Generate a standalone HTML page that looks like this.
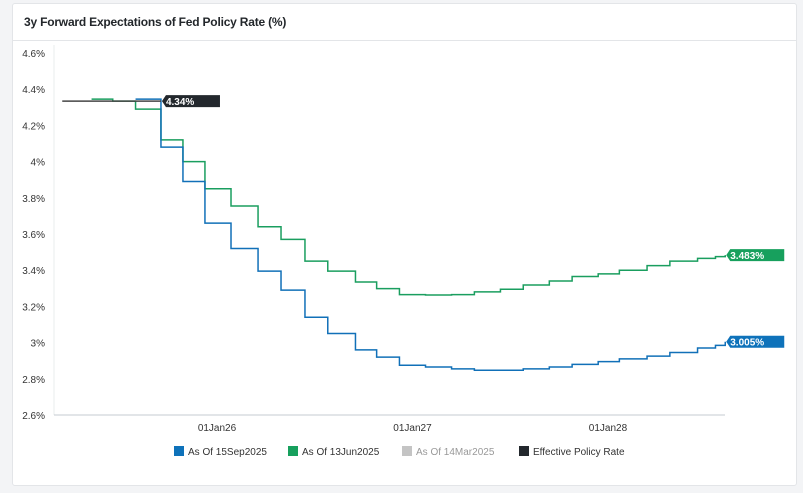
<!DOCTYPE html>
<html><head><meta charset="utf-8"><style>
body{margin:0;background:#f3f4f6;font-family:"Liberation Sans",sans-serif;}
.card{position:absolute;left:12px;top:3px;width:783px;height:481px;background:#fff;border:1px solid #e3e5e8;border-radius:3px;}
.title{position:absolute;left:11px;top:11px;font-size:12px;letter-spacing:-0.2px;font-weight:bold;color:#23272b;}
.sep{position:absolute;left:0;right:0;top:36px;border-top:1px solid #e3e5e8;}
svg{position:absolute;left:0;top:0;}
</style></head><body>
<div class="card">
<div class="title">3y Forward Expectations of Fed Policy Rate (%)</div>
<div class="sep"></div>
</div>
<svg id="chart" width="803" height="493"></svg>
<script>
// months relative to 01Jan26
const yTicks=[4.6,4.4,4.2,4.0,3.8,3.6,3.4,3.2,3.0,2.8,2.6];
const yTickLabels=["4.6%","4.4%","4.2%","4%","3.8%","3.6%","3.4%","3.2%","3%","2.8%","2.6%"];
const xTicks=[0,12,24];
const xTickLabels=["01Jan26","01Jan27","01Jan28"];
const blueMonths=[-5.0,-3.44,-2.09,-0.74,0.86,2.52,3.93,5.4,6.8,8.5,9.8,11.2,12.8,14.4,15.8,17.4,18.8,20.4,21.8,23.4,24.7,26.4,27.8,29.5,30.6,31.2];
const blueValues=[4.345,4.08,3.89,3.66,3.52,3.395,3.29,3.14,3.05,2.96,2.92,2.875,2.865,2.855,2.847,2.847,2.855,2.865,2.88,2.895,2.91,2.925,2.945,2.97,2.985,3.005];
const greenMonths=[-7.7,-6.4,-5.0,-3.44,-2.09,-0.74,0.86,2.52,3.93,5.4,6.8,8.5,9.8,11.2,12.8,14.4,15.8,17.4,18.8,20.4,21.8,23.4,24.7,26.4,27.8,29.5,30.6,31.2];
const greenValues=[4.345,4.334,4.29,4.12,4.0,3.85,3.755,3.64,3.57,3.45,3.395,3.335,3.298,3.265,3.263,3.265,3.28,3.295,3.318,3.34,3.365,3.38,3.40,3.425,3.45,3.465,3.475,3.483];
const effMonths=[-9.5,-3.44];
const effValues=[4.334,4.334];
const X=m=>217+m*16.29;
const Y=v=>53+(4.6-v)*181;
const NS="http://www.w3.org/2000/svg";
const svg=document.getElementById('chart');
function mk(t,a){const e=document.createElementNS(NS,t);for(const k in a)e.setAttribute(k,a[k]);svg.appendChild(e);return e;}
yTicks.forEach((v,i)=>{
 const t=mk('text',{x:45,y:Y(v)+4,'text-anchor':'end','font-size':'10','fill':'#333'});t.textContent=yTickLabels[i];
 
 
});
const ya=mk('line',{x1:54,y1:45,x2:54,y2:Y(2.6),stroke:'#e8ecee'});


const xa=mk('line',{x1:54,y1:Y(2.6),x2:725,y2:Y(2.6),stroke:'#c4cbd0'});


xTicks.forEach((m,i)=>{
 const t=mk('text',{x:X(m),y:431,'text-anchor':'middle','font-size':'10','fill':'#333'});t.textContent=xTickLabels[i];
 
 
});
function step(ms,vs,endM){let d='M'+X(ms[0])+' '+Y(vs[0]);for(let i=1;i<ms.length;i++){d+=' H'+X(ms[i])+' V'+Y(vs[i]);}d+=' H'+X(endM);return d;}
const g=mk('path',{d:step(greenMonths,greenValues,31.2),fill:'none',stroke:'#1a9e5f','stroke-width':1.5});


const b=mk('path',{d:step(blueMonths,blueValues,31.2),fill:'none',stroke:'#1170b8','stroke-width':1.5});


const k=mk('path',{d:step(effMonths,effValues,-3.44),fill:'none',stroke:'#444','stroke-width':1.5});


function tag(xm,v,txt,col,name){
 const x=X(xm)+1,y=Y(v);
 const p=mk('path',{d:`M${x} ${y} L${x+4} ${y-6} H${x+58} V${y+6} H${x+4} Z`,fill:col});
 
 
 const t=mk('text',{x:x+4,y:y+4,'font-size':'10','font-weight':'bold',fill:'#fff'});t.textContent=txt;
 
 
}
tag(-3.44,4.334,'4.34%','#23282d','effective-rate-tag');
tag(31.2,3.483,'3.483%','#17a05d','green-end-tag');
tag(31.2,3.005,'3.005%','#0e72ba','blue-end-tag');
const leg=[["As Of 15Sep2025","#0e72ba","#333",174],["As Of 13Jun2025","#17a05d","#333",288],["As Of 14Mar2025","#c4c4c4","#999",402],["Effective Policy Rate","#23282d","#333",519]];
leg.forEach(l=>{
 const r=mk('rect',{x:l[3],y:446,width:10,height:10,fill:l[1]});
 
 
 const t=mk('text',{x:l[3]+14,y:455,'font-size':'10',fill:l[2]});t.textContent=l[0];
 
 
});
</script>
</body></html>
